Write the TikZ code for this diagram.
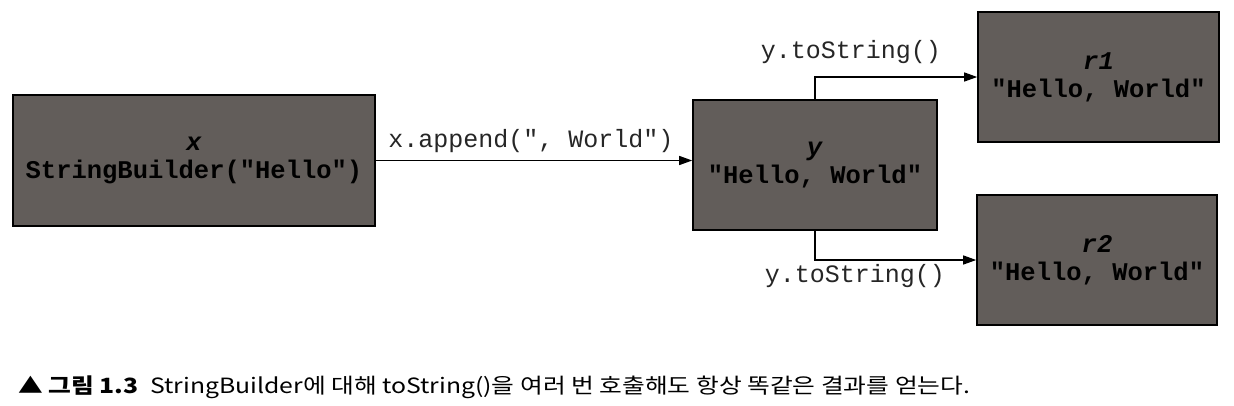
\documentclass[tikz,border=0pt]{standalone}
\usepackage{fontspec}
\setmainfont{Liberation Serif}
\setmonofont{Liberation Mono}
\newfontfamily\krfont{Noto Sans CJK KR}
\usetikzlibrary{arrows.meta}
\definecolor{boxgray}{RGB}{98,93,90}
\tikzset{
  objbox/.style={draw=black, line width=1.6pt, fill=boxgray, minimum width=#1, minimum height=130pt,
    inner sep=0pt, align=center, font=\fontsize{25.5}{28}\selectfont\ttfamily\bfseries, text=black},
  conn/.style={line width=1.3pt, -{Triangle[length=13pt,width=9pt]}},
  lbl/.style={font=\fontsize{25}{28}\selectfont\ttfamily, text=black!85, inner sep=0pt}
}
\begin{document}
\begin{tikzpicture}[x=1pt,y=-1pt]
\useasboundingbox (0,0) rectangle (1234,405);
\node[objbox=362pt, minimum height=131pt] (x) at (194,160.5) {\textit{x}\\StringBuilder("Hello")};
\node[objbox=244pt] (y) at (815,165) {\textit{y}\\"Hello, World"};
\node[objbox=241pt] (r1) at (1098.5,77) {\textit{r1}\\"Hello, World"};
\node[objbox=240pt] (r2) at (1097,260) {\textit{r2}\\"Hello, World"};
\draw[conn] (x.east) -- (x.east -| y.west);
\draw[conn] (y.north) |- (r1.west);
\draw[conn] (y.south) |- (r2.west);
\node[lbl] (l1) at (531,141) {x.append(", World")};
\node[lbl] (l2) at (851,52) {y.toString()};
\node[lbl] (l3) at (855,276) {y.toString()};
\node[anchor=west, inner sep=0pt, font=\krfont\fontsize{21}{24}\selectfont] (cap) at (18,387)
  {\resizebox{952pt}{\height}{\textbf{▲ 그림 1.3}\hspace{10pt}StringBuilder에 대해 toString()을 여러 번 호출해도 항상 똑같은 결과를 얻는다.}};
\end{tikzpicture}
\end{document}
